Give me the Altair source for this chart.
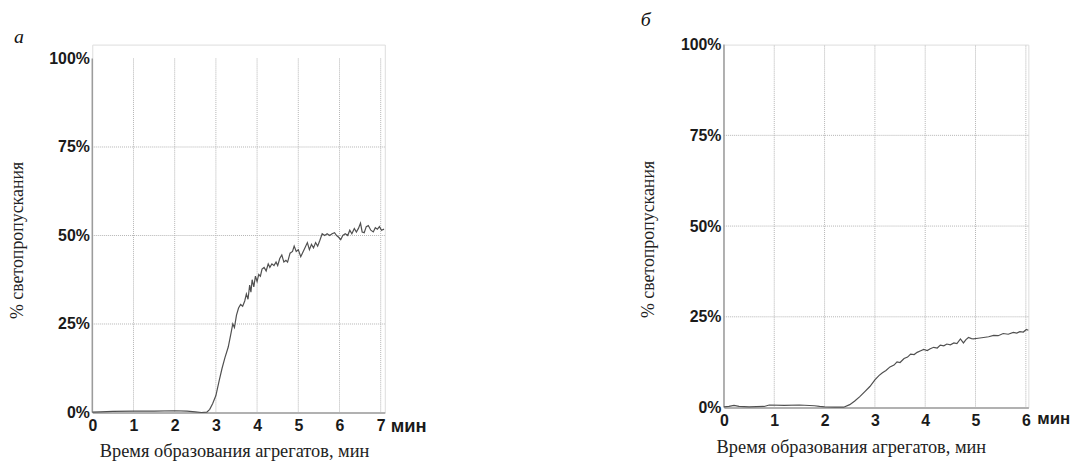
import altair as alt
import pandas as pd

# ---- data ----
a_time = [0, 0.2, 0.5, 1.0, 1.5, 2.0, 2.3, 2.5, 2.65, 2.78, 2.85, 2.92, 3.0, 3.08, 3.15, 3.22,
          3.3, 3.36, 3.41, 3.45, 3.5, 3.55, 3.6, 3.65, 3.7, 3.74, 3.78, 3.82, 3.85, 3.88, 3.92,
          3.96, 4.0, 4.04, 4.08, 4.12, 4.17, 4.22, 4.27, 4.31, 4.36, 4.41, 4.46, 4.5, 4.55, 4.6,
          4.65, 4.7, 4.74, 4.8, 4.86, 4.9, 4.95, 5.0, 5.06, 5.1, 5.16, 5.22, 5.27, 5.32, 5.37,
          5.42, 5.47, 5.52, 5.58, 5.64, 5.7, 5.76, 5.82, 5.88, 5.93, 5.98, 6.03, 6.08, 6.14, 6.2,
          6.25, 6.3, 6.36, 6.41, 6.46, 6.51, 6.55, 6.6, 6.65, 6.7, 6.76, 6.82, 6.87, 6.92, 6.97,
          7.02, 7.08]
a_value = [0.1, 0.2, 0.3, 0.4, 0.4, 0.5, 0.4, 0.2, 0.0, 0.1, 0.9, 2.5, 4.8, 9.0, 12.5, 15.5,
           18.5, 22.0, 25.0, 24.0, 27.5, 29.5, 30.5, 30.0, 31.5, 33.5, 32.0, 36.0, 34.0, 37.5, 35.5,
           38.5, 37.0, 39.0, 38.5, 40.5, 41.0, 40.0, 42.0, 41.0, 42.0, 41.5, 42.5, 41.5, 43.5, 44.5,
           42.5, 43.0, 42.5, 45.0, 45.5, 47.0, 45.5, 46.0, 44.0, 45.0, 46.5, 48.0, 46.0, 47.5, 46.5,
           48.0, 47.0, 48.5, 50.5, 50.0, 50.5, 50.0, 50.5, 50.8, 50.0, 49.5, 48.8, 50.0, 50.5, 50.0,
           51.5, 50.5, 52.0, 51.0, 52.0, 53.5, 51.0, 50.8, 52.5, 52.8, 51.5, 51.0, 52.2, 51.8, 52.5,
           51.5, 51.8]

b_time = [0, 0.1, 0.2, 0.3, 0.5, 0.8, 0.9, 1.2, 1.5, 1.8, 1.9, 2.0, 2.2, 2.38, 2.5, 2.6, 2.7,
          2.8, 2.9, 3.0, 3.08, 3.15, 3.22, 3.3, 3.38, 3.44, 3.5, 3.58, 3.65, 3.71, 3.78, 3.84,
          3.9, 3.97, 4.04, 4.1, 4.17, 4.24, 4.3, 4.37, 4.43, 4.5, 4.57, 4.63, 4.7, 4.76, 4.81,
          4.86, 4.92, 4.96, 5.05, 5.16, 5.26, 5.36, 5.45, 5.55, 5.65, 5.75, 5.82, 5.88, 5.95,
          6.01, 6.05]
b_value = [0.2, 0.3, 0.6, 0.3, 0.2, 0.3, 0.7, 0.6, 0.7, 0.5, 0.3, 0.2, 0.1, 0.1, 0.8, 1.8, 3.0,
           4.4, 5.8, 7.6, 8.8, 9.6, 10.2, 11.2, 11.7, 12.6, 12.4, 13.5, 13.9, 14.7, 14.6, 15.2,
           15.6, 16.0, 15.7, 16.2, 16.6, 16.4, 17.2, 17.0, 17.5, 17.3, 17.8, 17.6, 18.9, 17.8, 18.7,
           19.3, 19.0, 18.9, 19.1, 19.3, 19.5, 19.9, 19.8, 20.4, 20.2, 20.7, 20.5, 20.9, 20.8,
           21.5, 21.3]

y_ticks = [0, 25, 50, 75, 100]
grid_y = [25, 50, 75]
a_ticks = [0, 1, 2, 3, 4, 5, 6, 7]
b_ticks = [0, 1, 2, 3, 4, 5, 6]
a_grid_x = [1, 2, 3, 4, 5, 6, 7]
b_grid_x = [1, 2, 3, 4, 5, 6]
x_title = "Время образования агрегатов, мин"
y_title = "% светопропускания"
unit_label = "мин"
letters = ["а", "б"]

GRID = "#b4b4b4"
AXIS = "#9c9c9c"
LINE = "#505050"
SANS = "Liberation Sans"
SERIF = "Liberation Serif"


def panel(times, values, xmax, ymax, ticks, gridx, width, height, letter, lx, ly,
          tx, ty, yx, yy, ux, uy, usize):
    xs = alt.Scale(domain=[0, xmax], nice=False, zero=True)
    ys = alt.Scale(domain=[0, ymax], nice=False, zero=True)
    line_df = pd.DataFrame({"t": times, "v": values})

    x_axis = alt.Axis(values=ticks, title=x_title, grid=False, ticks=False,
                      domainColor=AXIS, domainWidth=1.5, labelFont=SANS,
                      labelFontWeight="bold", labelFontSize=16, labelColor="#1a1a1a",
                      labelPadding=5, labelFlush=False, labelOverlap=False,
                      titleFont=SERIF, titleFontWeight="normal", titleFontSize=18.5,
                      titleColor="#222222", titleX=tx, titleY=ty, titleAlign="center",
                      titleBaseline="alphabetic", titleAnchor="start")
    y_axis = alt.Axis(values=y_ticks, labelExpr="datum.value + '%'", title=y_title,
                      grid=False, ticks=False, domain=False, labelFont=SANS,
                      labelFontWeight="bold", labelFontSize=16, labelColor="#1a1a1a",
                      labelPadding=3, labelFlush=False, labelOverlap=False,
                      titleFont=SERIF, titleFontWeight="normal", titleFontSize=18,
                      titleColor="#222222", titleX=yx, titleY=yy, titleAngle=270,
                      titleAlign="center", titleBaseline="middle", titleAnchor="start")

    vgrid = alt.Chart(pd.DataFrame({"t": gridx})).mark_rule(
        color=GRID, strokeWidth=1, strokeDash=[1, 1]
    ).encode(x=alt.X("t:Q", scale=xs, axis=x_axis), y=alt.datum(0), y2=alt.datum(100))

    hgrid = alt.Chart(pd.DataFrame({"v": grid_y})).mark_rule(
        color=GRID, strokeWidth=1, strokeDash=[1, 1]
    ).encode(y=alt.Y("v:Q", scale=ys, axis=y_axis), x=alt.datum(0), x2=alt.datum(xmax))

    yline = alt.Chart(pd.DataFrame({"t": [0]})).mark_rule(
        color=AXIS, strokeWidth=1.5
    ).encode(x=alt.X("t:Q"), y=alt.datum(0), y2=alt.datum(100))

    line = alt.Chart(line_df).mark_line(color=LINE, strokeWidth=1.2).encode(
        x=alt.X("t:Q"), y=alt.Y("v:Q"))

    lab = alt.Chart(pd.DataFrame({"k": [letter]})).mark_text(
        font=SERIF, fontStyle="italic", fontSize=20, align="left", baseline="alphabetic",
        color="#111111"
    ).encode(text="k:N", x=alt.value(lx), y=alt.value(ly))

    unit = alt.Chart(pd.DataFrame({"k": [unit_label]})).mark_text(
        font=SANS, fontWeight="bold", fontSize=usize, align="left", baseline="alphabetic",
        color="#1a1a1a"
    ).encode(text="k:N", x=alt.value(ux), y=alt.value(uy))

    return alt.layer(vgrid, hgrid, yline, line, lab, unit).properties(
        width=width, height=height)


pa = panel(a_time, a_value, 7.1, 103.92, a_ticks, a_grid_x, 295, 371, letters[0],
           -79, -2, 143, 44, -75, 197, 301, 391, 18.5)
pb = panel(b_time, b_value, 6.05, 100, b_ticks, b_grid_x, 307, 366, letters[1],
           -84, -19, 128, 45, -76, 196, 316, 383, 17)

chart = alt.hconcat(pa, pb, spacing=342, bounds="flush").properties(
    padding={"left": 0, "top": -1, "right": 0, "bottom": 0}
).configure_view(stroke=None).configure(background="white")

chart.save("out.html", embed_options={"renderer": "svg", "actions": False})
